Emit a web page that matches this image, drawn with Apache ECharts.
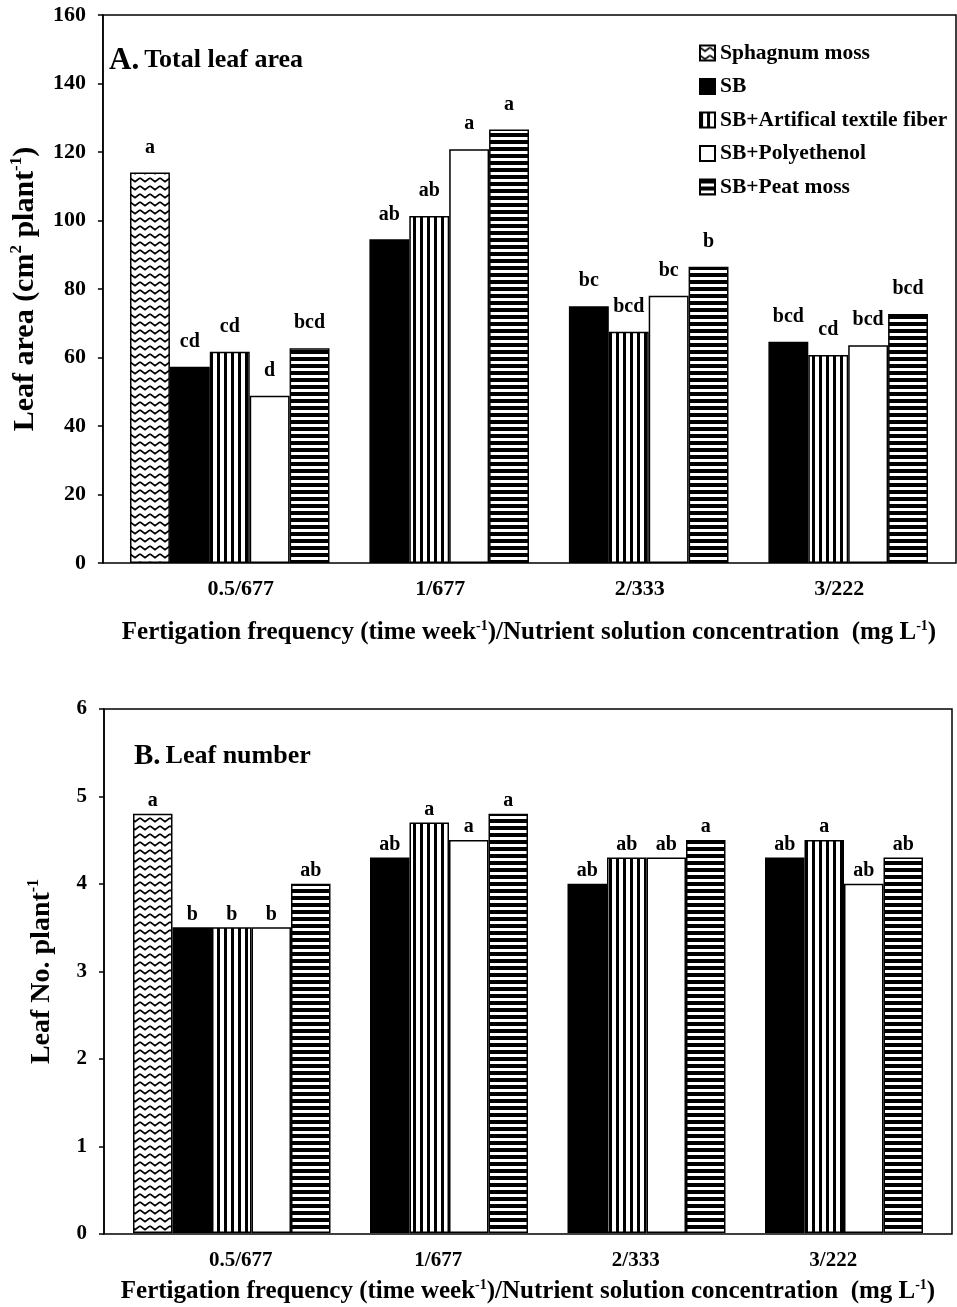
<!DOCTYPE html>
<html>
<head>
<meta charset="utf-8">
<script src="https://cdn.jsdelivr.net/npm/echarts@6/dist/echarts.min.js"></script>
<style>
html,body{margin:0;padding:0;background:#fff;}
#chart{width:957px;height:1307px;}
</style>
</head>
<body>
<div id="chart"></div>
<script>
// ---------- data ----------
const categories = ['0.5/677', '1/677', '2/333', '3/222'];
const seriesNames = ['Sphagnum moss', 'SB', 'SB+Artifical textile fiber', 'SB+Polyethenol', 'SB+Peat moss'];

// Panel A: total leaf area (cm2 plant-1)
const sphagnumA = [114.0, null, null, null];
const sbA       = [57.3, 94.5, 75.0, 64.6];
const textileA  = [61.7, 101.3, 67.5, 60.7];
const polyA     = [48.8, 120.8, 78.0, 63.6];
const peatA     = [62.7, 126.6, 86.5, 72.7];
const lettersSphagnumA = ['a', '', '', ''];
const lettersSbA       = ['cd', 'ab', 'bc', 'bcd'];
const lettersTextileA  = ['cd', 'ab', 'bcd', 'cd'];
const lettersPolyA     = ['d', 'a', 'bc', 'bcd'];
const lettersPeatA     = ['bcd', 'a', 'b', 'bcd'];

// Panel B: leaf number (No. plant-1)
const sphagnumB = [4.8, null, null, null];
const sbB       = [3.5, 4.3, 4.0, 4.3];
const textileB  = [3.5, 4.7, 4.3, 4.5];
const polyB     = [3.5, 4.5, 4.3, 4.0];
const peatB     = [4.0, 4.8, 4.5, 4.3];
const lettersSphagnumB = ['a', '', '', ''];
const lettersSbB       = ['b', 'ab', 'ab', 'ab'];
const lettersTextileB  = ['b', 'a', 'ab', 'a'];
const lettersPolyB     = ['b', 'a', 'ab', 'ab'];
const lettersPeatB     = ['ab', 'a', 'a', 'ab'];

const yTicksA = [0, 20, 40, 60, 80, 100, 120, 140, 160];
const yTicksB = [0, 1, 2, 3, 4, 5, 6];

// ---------- styles ----------
const FONT = "'Liberation Serif', 'Times New Roman', serif";

function makePattern(kind) {
  const c = document.createElement('canvas');
  const ctx = c.getContext('2d');
  if (kind === 'zig') {
    c.width = 10; c.height = 8;
    ctx.fillStyle = '#fff'; ctx.fillRect(0, 0, 10, 8);
    ctx.strokeStyle = '#000'; ctx.lineWidth = 1.7;
    ctx.beginPath();
    for (let off = -10; off <= 10; off += 10) {
      ctx.moveTo(off + 0, 2); ctx.lineTo(off + 5, 5.6); ctx.lineTo(off + 10, 2);
    }
    ctx.stroke();
  } else if (kind === 'v') {
    c.width = 7; c.height = 7;
    ctx.fillStyle = '#fff'; ctx.fillRect(0, 0, 7, 7);
    ctx.fillStyle = '#000'; ctx.fillRect(0, 0, 3, 7);
  } else if (kind === 'h') {
    c.width = 7; c.height = 7;
    ctx.fillStyle = '#fff'; ctx.fillRect(0, 0, 7, 7);
    ctx.fillStyle = '#000'; ctx.fillRect(0, 0, 7, 4);
  }
  return { image: c, repeat: 'repeat' };
}

const fills = [makePattern('zig'), '#000', makePattern('v'), '#fff', makePattern('h')];

const valuesA = [sphagnumA, sbA, textileA, polyA, peatA];
const lettersA = [lettersSphagnumA, lettersSbA, lettersTextileA, lettersPolyA, lettersPeatA];
const valuesB = [sphagnumB, sbB, textileB, polyB, peatB];
const lettersB = [lettersSphagnumB, lettersSbB, lettersTextileB, lettersPolyB, lettersPeatB];

function makeSeries(values, letters, axisIdx, labelDist) {
  return seriesNames.map((name, i) => ({
    name: name,
    type: 'bar',
    xAxisIndex: axisIdx,
    yAxisIndex: axisIdx,
    data: values[i],
    barGap: '0%',
    barCategoryGap: '0%',
    itemStyle: { color: fills[i], borderColor: '#000', borderWidth: 1.5 },
    label: {
      show: true,
      position: 'top',
      distance: labelDist,
      color: '#000',
      fontFamily: FONT,
      fontWeight: 'bold',
      fontSize: 20,
      formatter: p => letters[i][p.dataIndex]
    }
  }));
}

function frameY(max, interval, name, nameGap, fs, nameFs) {
  return {
    type: 'value', min: 0, max: max, interval: interval,
    axisLine: { show: true, lineStyle: { color: '#000', width: 1.5 } },
    axisTick: { show: true, length: 5, lineStyle: { color: '#000', width: 1.5 } },
    axisLabel: { color: '#000', fontFamily: FONT, fontWeight: 'bold', fontSize: fs, margin: 17 },
    splitLine: { show: false },
    name: name, nameLocation: 'middle', nameRotate: 90, nameGap: nameGap,
    nameTextStyle: { color: '#000', fontFamily: FONT, fontWeight: 'bold', fontSize: nameFs, lineHeight: nameFs + 4,
      rich: { sup: { fontSize: Math.round(nameFs * 0.58), fontWeight: 'bold', fontFamily: FONT, color: '#000', verticalAlign: 'top', lineHeight: Math.round(nameFs * 0.58) } } }
  };
}

const xName = 'Fertigation frequency (time week{sup|-1})/Nutrient solution concentration  (mg L{sup|-1})';

function barX(gridIdx, nameGap, labelMargin, labelPad, fs) {
  return {
    type: 'category', gridIndex: gridIdx, data: categories,
    axisLine: { show: false }, axisTick: { show: false },
    axisLabel: { color: '#000', fontFamily: FONT, fontWeight: 'bold', fontSize: fs, margin: labelMargin, padding: [0, 0, 0, labelPad] },
    name: xName, nameLocation: 'middle', nameGap: nameGap,
    nameTextStyle: { color: '#000', fontFamily: FONT, fontWeight: 'bold', fontSize: 25, lineHeight: 28,
      rich: { sup: { fontSize: 14, fontWeight: 'bold', fontFamily: FONT, color: '#000', verticalAlign: 'top', lineHeight: 14 } } }
  };
}

const chart = echarts.init(document.getElementById('chart'), null, { renderer: 'canvas' });
chart.setOption({
  animation: false,
  backgroundColor: '#fff',
  title: [
    { text: '{a|A.} {b|Total leaf area}', left: 104, top: 40,
      textStyle: { rich: {
        a: { fontFamily: FONT, fontWeight: 'bold', fontSize: 31, color: '#000' },
        b: { fontFamily: FONT, fontWeight: 'bold', fontSize: 26, color: '#000' } } } },
    { text: '{a|B.} {b|Leaf number}', left: 129, top: 737,
      textStyle: { rich: {
        a: { fontFamily: FONT, fontWeight: 'bold', fontSize: 29, color: '#000' },
        b: { fontFamily: FONT, fontWeight: 'bold', fontSize: 26, color: '#000' } } } }
  ],
  legend: {
    orient: 'vertical', left: 699, top: 42, itemWidth: 15, itemHeight: 15, itemGap: 11.5,
    padding: 0, icon: 'rect', data: seriesNames,
    textStyle: { color: '#000', fontFamily: FONT, fontWeight: 'bold', fontSize: 21.5 }
  },
  grid: [
    { left: 101, top: 15, width: 855, height: 548, show: true, borderColor: '#000', borderWidth: 1.5, backgroundColor: 'transparent' },
    { left: 130, top: 15, width: 798, height: 548 },
    { left: 104, top: 709, width: 848, height: 525, show: true, borderColor: '#000', borderWidth: 1.5, backgroundColor: 'transparent' },
    { left: 133, top: 709, width: 790, height: 525 }
  ],
  xAxis: [
    { type: 'category', gridIndex: 0, data: categories, show: false },
    barX(1, 56, 15, 22, 22),
    { type: 'category', gridIndex: 2, data: categories, show: false },
    barX(3, 45, 17, 18, 21)
  ],
  yAxis: [
    Object.assign(frameY(yTicksA[yTicksA.length - 1], yTicksA[1] - yTicksA[0], 'Leaf area (cm{sup|2} plant{sup|-1})', 55, 22, 30), { gridIndex: 0 }),
    { type: 'value', gridIndex: 1, min: 0, max: yTicksA[yTicksA.length - 1], show: false, splitLine: { show: false } },
    Object.assign(frameY(yTicksB[yTicksB.length - 1], yTicksB[1] - yTicksB[0], 'Leaf No. plant{sup|-1}', 46, 21, 28), { gridIndex: 2 }),
    { type: 'value', gridIndex: 3, min: 0, max: yTicksB[yTicksB.length - 1], show: false, splitLine: { show: false } }
  ],
  series: [].concat(makeSeries(valuesA, lettersA, 1, 15), makeSeries(valuesB, lettersB, 3, 3))
});
</script>
</body>
</html>
